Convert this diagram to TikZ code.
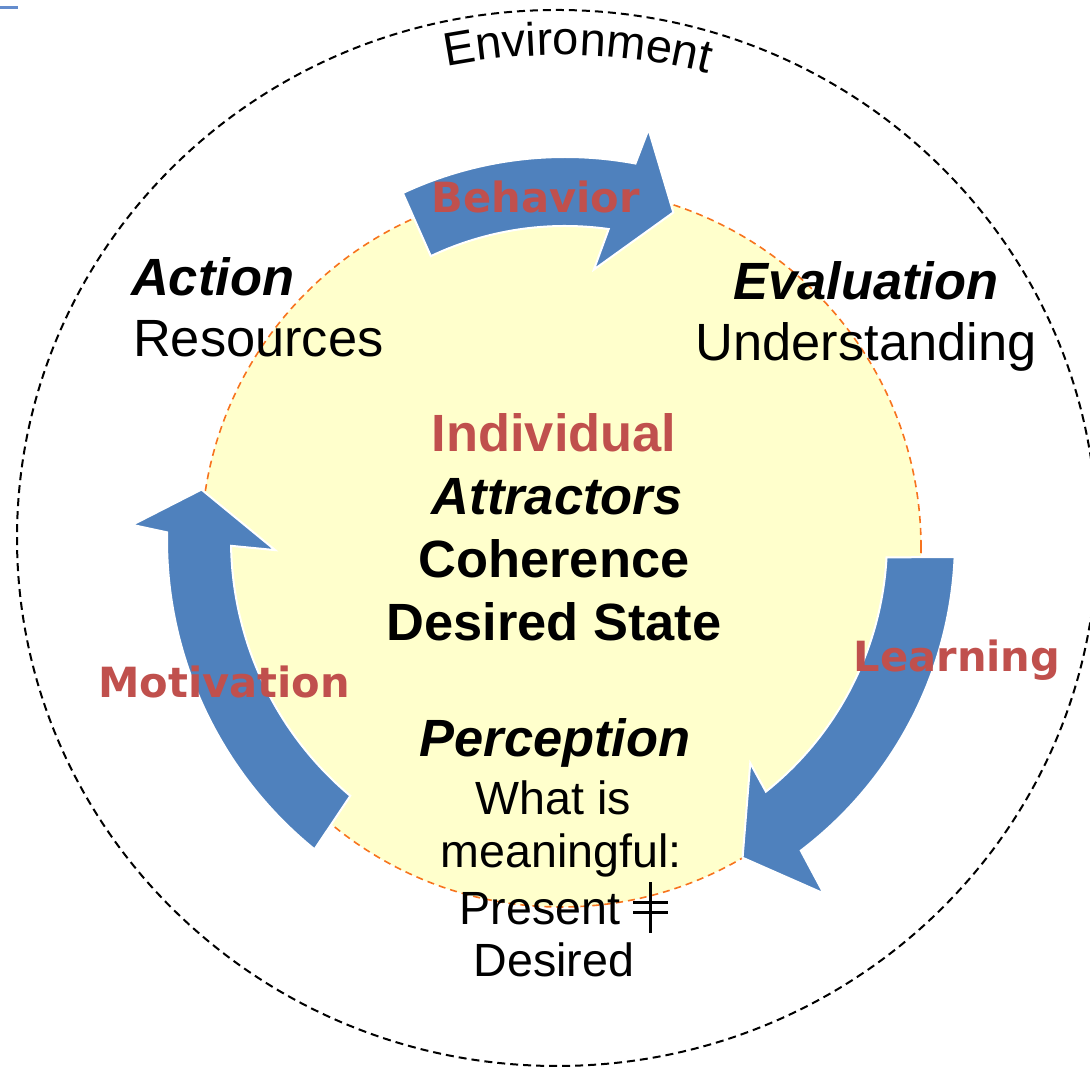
\documentclass[tikz,border=0pt]{standalone}
\usepackage{fontspec}
\setmainfont{Liberation Sans}
\newfontfamily\flowfont{DejaVu Sans}
\usetikzlibrary{decorations.text}

\definecolor{arrowblue}{RGB}{79,129,189}
\definecolor{flowred}{RGB}{192,80,77}
\definecolor{coreyellow}{RGB}{255,255,204}
\definecolor{rimorange}{RGB}{247,115,30}
\definecolor{tickblue}{RGB}{100,140,205}

\newcommand{\crossedeq}{\rlap{\rule[0.23em]{0.75em}{0.06em}}\rlap{\rule[0.46em]{0.75em}{0.06em}}\hspace{0.34em}\rule[-0.17em]{0.07em}{1.09em}\hspace{0.34em}}

\begin{document}
\begin{tikzpicture}[x=0.5pt,y=0.5pt,stage/.style={anchor=base,font=\fontsize{26.2}{30}\selectfont\bfseries\itshape},detail/.style={anchor=base,font=\fontsize{26.2}{30}\selectfont},core/.style={anchor=base,font=\fontsize{26.2}{30}\selectfont\bfseries},note/.style={anchor=base,font=\fontsize{23.3}{27}\selectfont},flow/.style={anchor=base,text=flowred,font=\fontsize{20.8}{24}\selectfont\flowfont\bfseries},cyclearrow/.style={fill=arrowblue,draw=white,line width=1pt}]
\useasboundingbox (0,0) rectangle (1090,1068);

% environment ring and label
\draw[dash pattern=on 4pt off 2.5pt,line width=1pt] (557,530) ellipse [x radius=540,y radius=528];
\path[decorate,decoration={text along path,text align=center,text={|\fontsize{23.5}{27}\selectfont|Environment}}] ([shift={(562,413)}]118.5:600) arc[start angle=118.5,end angle=58.5,radius=600];
\draw[tickblue,line width=1.5pt] (0,1060) -- (18,1060);

% inner disc
\filldraw[fill=coreyellow,draw=rimorange,dash pattern=on 3.5pt off 2.5pt,line width=0.8pt] (561,521) circle [radius=360];

% the three cycle arrows
\begin{scope}[shift={(565,528)}]
\filldraw[cyclearrow] (115.05:383) arc[start angle=115.05,end angle=79.4,radius=383] -- (78.5:419) -- (71.7:345) -- (83.9:272) -- (82:314) arc[start angle=82,end angle=115.3,radius=314] -- cycle;
\filldraw[cyclearrow] (-2.5:390) arc[start angle=-2.5,end angle=-52.8,radius=390] -- (-53.8:438) -- (-60.8:364) -- (-50.3:290) -- (-51.4:322) arc[start angle=-51.4,end angle=-3.1,radius=322] -- cycle;
\filldraw[cyclearrow] (231:398) arc[start angle=231,end angle=178.9,radius=398] -- (178:433) -- (172.1:367) -- (182:290) -- (181:334) arc[start angle=181,end angle=230,radius=334] -- cycle;
\end{scope}

\node[flow] (behavior) at (536,855) {Behavior};
\node[flow] (learning) at (957,396) {Learning};
\node[flow] (motivation) at (224,370) {Motivation};

\node[stage,anchor=base west] (action) at (124,772) {Action};
\node[detail,anchor=base west] (resources) at (126,711) {Resources};
\node[stage] (evaluation) at (866,768) {Evaluation};
\node[detail] (understanding) at (866,707) {Understanding};

\node[core,text=flowred] (individual) at (554,616) {Individual};
\node[stage] (attractors) at (557,553) {Attractors};
\node[core] (coherence) at (554,490) {Coherence};
\node[core] (desiredstate) at (554,427) {Desired State};

\node[stage] (perception) at (555,311) {Perception};
\node[note] (whatis) at (553,253) {What is};
\node[note] (meaningful) at (561,200) {meaningful:};
\node[note] (present) at (556,143) {Present \crossedeq};
\node[note] (desired) at (554,91) {Desired};

\end{tikzpicture}
\end{document}
